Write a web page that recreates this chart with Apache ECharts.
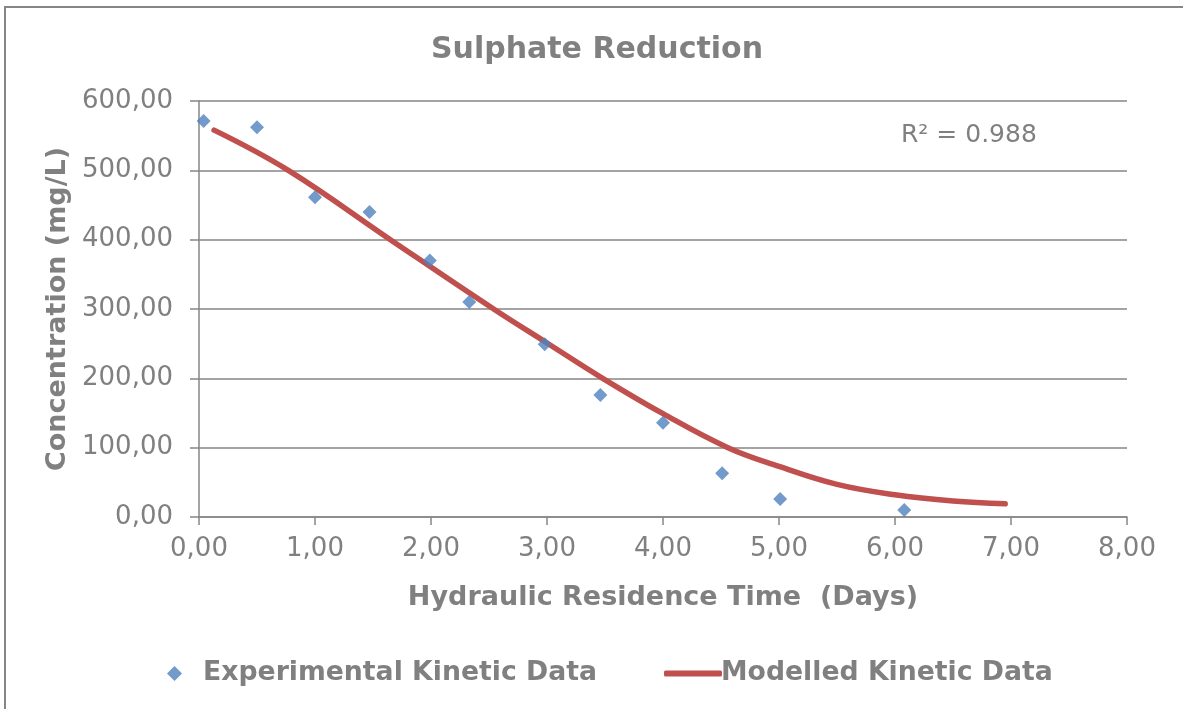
<!DOCTYPE html>
<html>
<head>
<meta charset="utf-8">
<title>Sulphate Reduction</title>
<script src="https://cdn.jsdelivr.net/npm/echarts@6/dist/echarts.min.js"></script>
<style>
  html, body { margin: 0; padding: 0; background: #ffffff; }
  #chart { width: 1183px; height: 709px; }
</style>
</head>
<body>
<div id="chart"></div>
<script>
// Hydraulic residence time (days) and measured sulphate concentration (mg/L)
const expDays = [0.04, 0.50, 1.00, 1.47, 1.99, 2.33, 2.98, 3.46, 4.00, 4.51, 5.01, 6.08];
const expConc = [571, 562, 461, 440, 370, 310, 249, 176, 136, 63, 26, 10];

// Kinetic model curve
const modelDays = [0.13, 0.77, 1.65, 2.54, 3.00, 3.48, 4.00, 4.56, 5.00, 5.50, 6.00, 6.50, 6.95];
const modelConc = [558, 500, 400, 300, 251, 200, 149, 100, 73, 47, 32, 23, 19];

// Axis ticks
const xTicks = [0, 1, 2, 3, 4, 5, 6, 7, 8];
const yTicks = [0, 100, 200, 300, 400, 500, 600];

const rSquared = '0.988';

const GREY = '#808080';
const LINE_GREY = '#868686';
const FONT = 'DejaVu Sans';
const BLUE = '#4F81BD';
const RED = '#C0504D';

const fmt = v => v.toFixed(2).replace('.', ',');

const legendText = { fontFamily: FONT, fontSize: 26.7, fontWeight: 'bold', color: GREY };

const chart = echarts.init(document.getElementById('chart'), null, { renderer: 'canvas' });

chart.setOption({
  animation: false,
  backgroundColor: '#ffffff',
  title: {
    text: 'Sulphate Reduction',
    left: 592,
    top: 30,
    textAlign: 'center',
    textStyle: { fontFamily: FONT, fontSize: 30, fontWeight: 'bold', color: GREY }
  },
  grid: { left: 199, right: 56, top: 101, bottom: 192, containLabel: false },
  legend: [
    {
      left: 162,
      top: 655,
      itemWidth: 15,
      itemHeight: 15,
      textStyle: Object.assign({ padding: [0, 0, 0, 16] }, legendText),
      data: [{ name: 'Experimental Kinetic Data', icon: 'diamond' }]
    },
    {
      left: 659,
      top: 655,
      itemWidth: 58,
      itemHeight: 6,
      itemGap: 0,
      textStyle: Object.assign({ padding: [0, 0, 0, -6] }, legendText),
      data: [{ name: 'Modelled Kinetic Data', icon: 'roundRect' }]
    }
  ],
  xAxis: {
    type: 'value',
    min: xTicks[0],
    max: xTicks[xTicks.length - 1],
    interval: 1,
    name: 'Hydraulic Residence Time  (Days)',
    nameLocation: 'middle',
    nameGap: 67,
    nameTextStyle: { fontFamily: FONT, fontSize: 27, fontWeight: 'bold', color: GREY },
    axisLine: { show: true, onZero: false, lineStyle: { color: LINE_GREY, width: 1.5 } },
    axisTick: { show: true, length: 8, lineStyle: { color: LINE_GREY, width: 1.5 } },
    axisLabel: { fontFamily: FONT, fontSize: 26, color: GREY, margin: 19, formatter: fmt },
    splitLine: { show: false }
  },
  yAxis: {
    type: 'value',
    min: yTicks[0],
    max: yTicks[yTicks.length - 1],
    interval: 100,
    name: 'Concentration (mg/L)',
    nameLocation: 'middle',
    nameGap: 126,
    nameRotate: 90,
    nameTextStyle: { fontFamily: FONT, fontSize: 27, fontWeight: 'bold', color: GREY },
    axisLine: { show: true, lineStyle: { color: LINE_GREY, width: 1.5 } },
    axisTick: { show: true, length: 9, lineStyle: { color: LINE_GREY, width: 1.5 } },
    axisLabel: { fontFamily: FONT, fontSize: 26, color: GREY, margin: 26, formatter: fmt },
    splitLine: { show: true, lineStyle: { color: LINE_GREY, width: 1.5 } }
  },
  graphic: [
    {
      type: 'rect',
      silent: true,
      shape: { x: 5, y: 7, width: 1400, height: 900 },
      style: { fill: 'none', stroke: LINE_GREY, lineWidth: 2 },
      z: -10
    },
    {
      type: 'text',
      left: 901,
      top: 123,
      silent: true,
      style: {
        text: 'R² = ' + rSquared,
        fontFamily: FONT,
        fontSize: 25,
        fill: GREY
      }
    }
  ],
  series: [
    {
      name: 'Modelled Kinetic Data',
      type: 'line',
      data: modelDays.map((d, i) => [d, modelConc[i]]),
      smooth: 0.4,
      showSymbol: false,
      symbol: 'none',
      lineStyle: { color: RED, width: 5.5, cap: 'round', join: 'round' },
      itemStyle: { color: RED },
      z: 2
    },
    {
      name: 'Experimental Kinetic Data',
      type: 'scatter',
      data: expDays.map((d, i) => [d, expConc[i]]),
      symbol: 'diamond',
      symbolSize: 14,
      itemStyle: { color: BLUE },
      z: 3
    }
  ]
});
</script>
</body>
</html>
